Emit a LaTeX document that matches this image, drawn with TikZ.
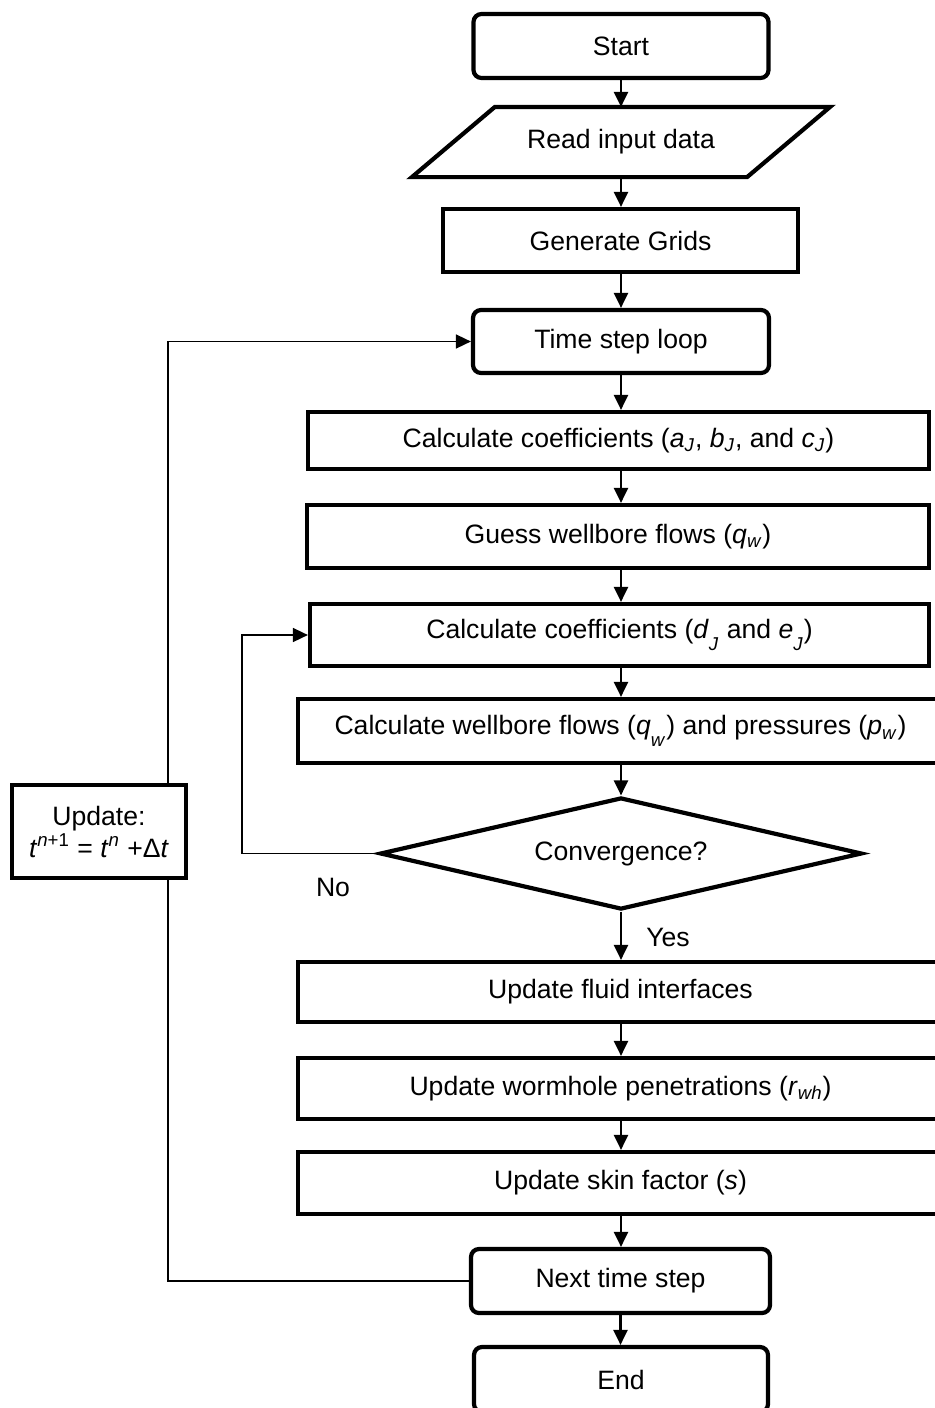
\documentclass[tikz,border=0pt]{standalone}
\usepackage{fontspec}
\setmainfont{Liberation Sans}
\usetikzlibrary{arrows.meta,shapes.geometric,calc}
\newcommand\isub[2]{\textit{#1}\textsubscript{\textit{#2}}}
\newcommand\lsub[2]{\textit{#1}\raisebox{-0.5ex}{\textsubscript{\textit{#2}}}}
\begin{document}
\begin{tikzpicture}[x=0.5pt,y=-0.5pt,font=\fontsize{13.3}{16}\selectfont,
  box/.style={draw,line width=2.1pt,rectangle,inner sep=2pt,align=center},
  rbox/.style={box,rounded corners=4pt},
  arr/.style={line width=1.1pt,-{Triangle[length=7.5pt,width=7pt]}},
  fb/.style={line width=0.8pt},
  fbarr/.style={fb,-{Triangle[length=7.5pt,width=7pt]}}]
\useasboundingbox (0,0) rectangle (934,1408);

\node[rbox,minimum width=147.5pt,minimum height=32pt] (start) at (621,46) {Start};
\node[rectangle,inner sep=0pt,outer sep=1.05pt,minimum width=165.5pt,minimum height=33pt] (read) at (621,142) {Read input data};
\draw[line width=2.1pt,line join=miter]
  ($(read.south west)+(-41.5,0)$) -- ($(read.north west)+(41.5,0)$) --
  ($(read.north east)+(41.5,0)$) -- ($(read.south east)+(-41.5,0)$) -- cycle;
\node[box,minimum width=177.5pt,minimum height=31.5pt] (grids) at (620.5,240.5) {Generate Grids};
\node[rbox,minimum width=148pt,minimum height=31.5pt] (loop) at (621,341.5) {Time step loop};
\node[box,minimum width=310.5pt,minimum height=28.5pt] (c1) at (618.5,440.5)
  {Calculate coefficients (\isub{a}{J}, \isub{b}{J}, and \isub{c}{J})};
\node[box,minimum width=311pt,minimum height=31.5pt] (guess) at (618,536.5)
  {Guess wellbore flows (\isub{q}{w})};
\node[box,minimum width=309.5pt,minimum height=31pt] (c2) at (619.5,635)
  {Calculate coefficients (\lsub{d}{J} and \lsub{e}{J})};
\node[box,minimum width=322.5pt,minimum height=32pt] (flows) at (620.5,731)
  {Calculate wellbore flows (\lsub{q}{w}) and pressures (\isub{p}{w})};
\node[draw,line width=2.1pt,diamond,aspect=4.2,inner sep=0pt,minimum width=241pt,minimum height=56pt] (dia) at (621,853.5) {Convergence?};
\node[box,minimum width=322.5pt,minimum height=30pt] (fluid) at (620.5,992) {Update fluid interfaces};
\node[box,minimum width=322.5pt,minimum height=30.5pt] (worm) at (620.5,1088.5)
  {Update wormhole penetrations (\isub{r}{wh})};
\node[box,minimum width=322.5pt,minimum height=31pt] (skin) at (620.5,1183)
  {Update skin factor (\textit{s})};
\node[rbox,minimum width=149.5pt,minimum height=32pt] (next) at (620.5,1281) {Next time step};
\node[rbox,minimum width=147pt,minimum height=32.5pt] (end) at (621,1379.5) {End};
\node[box,minimum width=87pt,minimum height=46.5pt] (upd) at (99,831.5)
  {Update:\\\textit{t}\textsuperscript{\textit{n}+1} = \textit{t}\textsuperscript{\textit{n}} +Δ\textit{t}};

\node (no) at (333,887) {No};
\node (yes) at (668,937) {Yes};

\draw[arr] (start.south) -- (start.south |- read.north);
\draw[arr] (read.south) -- (read.south |- grids.north);
\draw[arr] (grids.south) -- (grids.south -| read.south) -- (read.south |- loop.north);
\draw[arr] (loop.south) -- (loop.south |- c1.north);
\draw[arr] (loop.south |- c1.south) -- (loop.south |- guess.north);
\draw[arr] (loop.south |- guess.south) -- (loop.south |- c2.north);
\draw[arr] (loop.south |- c2.south) -- (loop.south |- flows.north);
\draw[arr] (loop.south |- flows.south) -- (loop.south |- dia.north);
\draw[arr] (loop.south |- dia.south) -- (loop.south |- fluid.north);
\draw[arr] (loop.south |- fluid.south) -- (loop.south |- worm.north);
\draw[arr] (loop.south |- worm.south) -- (loop.south |- skin.north);
\draw[arr] (loop.south |- skin.south) -- (loop.south |- next.north);
\draw[arr] (next.south) -- (next.south |- end.north);

\coordinate (nox) at (242,0);
\draw[fbarr] (dia.west) -- (dia.west -| nox) -- (nox |- c2.west) -- (c2.west);

\coordinate (lx) at (168,0);
\draw[fb] (next.west) -- (next.west -| lx) -- (lx |- upd.south);
\draw[fbarr] (lx |- upd.north) -- (lx |- loop.west) -- (loop.west);
\end{tikzpicture}
\end{document}
